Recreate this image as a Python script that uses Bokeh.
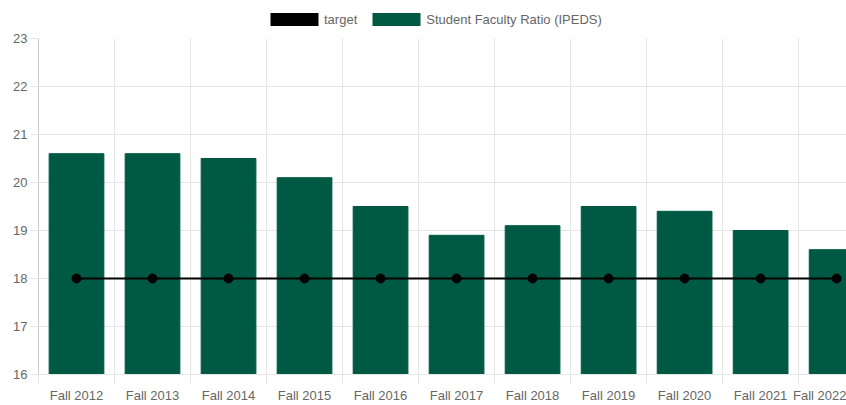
from bokeh.plotting import figure
from bokeh.layouts import column
from bokeh.models import Range1d, FixedTicker, Legend, LegendItem
from bokeh.embed import file_html
from bokeh.resources import INLINE

categories = ["Fall 2012", "Fall 2013", "Fall 2014", "Fall 2015", "Fall 2016", "Fall 2017",
              "Fall 2018", "Fall 2019", "Fall 2020", "Fall 2021", "Fall 2022"]
ratio = [20.6, 20.6, 20.5, 20.1, 19.5, 18.9, 19.1, 19.5, 19.4, 19.0, 18.6]
target = [18, 18, 18, 18, 18, 18, 18, 18, 18, 18, 18]
y_ticks = [16, 17, 18, 19, 20, 21, 22, 23]
series_names = ["target", "Student Faculty Ratio (IPEDS)"]

xs = list(range(len(categories)))
bounds = [i - 0.5 for i in range(len(categories) + 1)]

FONT = "Liberation Sans"
GRID = "#e6e6e6"
TXT = "#666666"
GREEN = "#005A43"

# ---- main chart ----
p = figure(width=846, height=375, output_backend="svg", toolbar_location=None,
           x_range=Range1d(-0.5, 10.13), y_range=Range1d(16, 23),
           min_border_left=38, min_border_right=0, min_border_top=8, min_border_bottom=29)
p.outline_line_color = None

bars = p.vbar(x=xs, top=ratio, bottom=16, width=0.72, fill_color=GREEN, line_color=GREEN)
p.line(xs, target, line_color="black", line_width=2)
p.scatter(xs, target, size=9, fill_color="black", line_color="black")

p.xaxis.ticker = FixedTicker(ticks=xs, minor_ticks=bounds)
p.xaxis.major_label_overrides = {i: c for i, c in enumerate(categories)}
p.xaxis.major_tick_line_color = None
p.xaxis.major_tick_out = 0
p.xaxis.minor_tick_out = 10
p.xaxis.minor_tick_in = 0
p.xaxis.minor_tick_line_color = GRID
p.xaxis.axis_line_color = GRID
p.xaxis.major_label_standoff = 3
p.xaxis.major_label_text_font = FONT
p.xaxis.major_label_text_font_size = "13px"
p.xaxis.major_label_text_color = TXT
p.xgrid.ticker = FixedTicker(ticks=bounds)
p.xgrid.grid_line_color = GRID

p.yaxis.ticker = FixedTicker(ticks=y_ticks)
p.yaxis.major_tick_out = 8
p.yaxis.major_tick_in = 0
p.yaxis.major_tick_line_color = GRID
p.yaxis.minor_tick_line_color = None
p.yaxis.axis_line_color = "#cccccc"
p.yaxis.major_label_standoff = 3
p.yaxis.major_label_text_font = FONT
p.yaxis.major_label_text_font_size = "13px"
p.yaxis.major_label_text_color = TXT
p.ygrid.grid_line_color = GRID

# ---- legend strip ----
lg = figure(width=846, height=30, output_backend="svg", toolbar_location=None,
            x_range=Range1d(0, 1), y_range=Range1d(0, 1),
            min_border_left=38, min_border_right=0, min_border_top=0, min_border_bottom=0)
lg.outline_line_color = None
lg.axis.visible = False
lg.grid.visible = False
# zero-height swatches: invisible in the strip, used only for the legend boxes
d1 = lg.vbar(x=[0.5], top=[0.5], bottom=[0.5], width=0.01,
             fill_color="black", line_color="black", line_alpha=0)
d2 = lg.vbar(x=[0.5], top=[0.5], bottom=[0.5], width=0.01,
             fill_color=GREEN, line_color=GREEN, line_alpha=0)

legend = Legend(items=[LegendItem(label=series_names[0], renderers=[d1]),
                       LegendItem(label=series_names[1], renderers=[d2])],
                orientation="horizontal", location=(226, 3),
                glyph_width=60, glyph_height=16, label_height=16,
                label_text_font=FONT, label_text_font_size="13px", label_text_color=TXT,
                label_standoff=0, spacing=9, padding=0, margin=0,
                border_line_color=None, background_fill_alpha=0)
lg.add_layout(legend, "center")

layout = column(lg, p, spacing=0)
open("out.html", "w").write(file_html(layout, INLINE))
